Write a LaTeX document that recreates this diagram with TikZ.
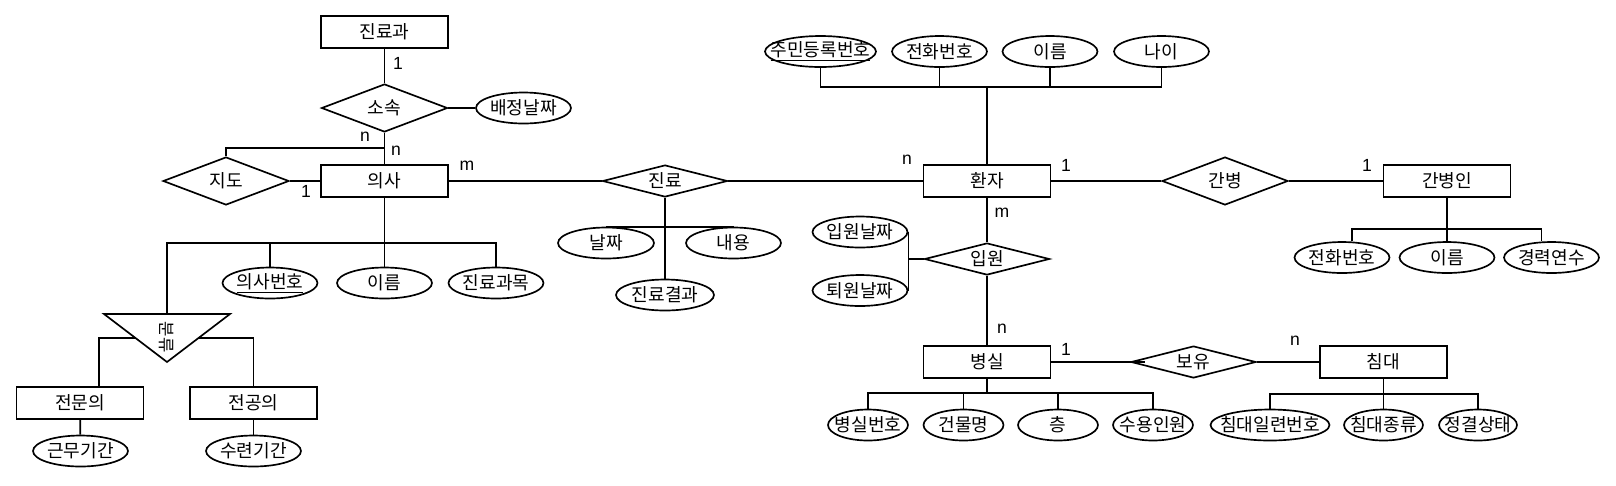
\documentclass[tikz,border=0pt]{standalone}
\usepackage{fontspec}
\usepackage{graphicx}
\setmainfont{Noto Sans CJK KR}
\newfontfamily\cardfont{Liberation Sans}
\usetikzlibrary{shapes.geometric}

\tikzset{
  ent/.style={draw, rectangle, minimum width=2.54cm, minimum height=0.64cm, inner sep=0pt},
  rel/.style={draw, diamond, aspect=2.6, minimum width=2.52cm, minimum height=0.96cm, inner sep=0pt},
  flatrel/.style={rel, aspect=3.9, minimum width=2.5cm, minimum height=0.64cm},
  attr/.style={draw, ellipse, minimum width=1.9cm, minimum height=0.62cm, inner sep=0pt,
    execute at begin node={\hbox to 0pt\bgroup\hss}, execute at end node={\hss\egroup}},
  card/.style={inner sep=0pt, font=\cardfont\fontsize{10}{11}\selectfont},
}

\begin{document}
\begin{tikzpicture}[x=0.02cm, y=-0.02cm, line width=0.95pt,
    every node/.style={font=\fontsize{10.3}{12}\selectfont}]
  \useasboundingbox (0,0) rectangle (1616,485);

  % entities
  \node[ent] (dept) at (384.5,32) {진료과};
  \node[ent] (doc) at (384.5,181) {의사};
  \node[ent] (pat) at (987,181) {환자};
  \node[ent] (carer) at (1447,181) {간병인};
  \node[ent] (room) at (987,362) {병실};
  \node[ent] (bed) at (1383.5,362) {침대};
  \node[ent] (spec) at (80,403) {전문의};
  \node[ent] (resi) at (253.5,403) {전공의};

  % relationships
  \node[rel] (belong) at (384.5,108) {소속};
  \node[rel] (guide) at (226,181) {지도};
  \node[flatrel] (treat) at (665,181) {진료};
  \node[rel] (care) at (1225,181) {간병};
  \node[flatrel] (admit) at (987,259) {입원};
  \node[flatrel] (hold) at (1193.5,362) {보유};

  % specialisation triangle
  \coordinate (isa-l) at (104,314);
  \coordinate (isa-r) at (230,314);
  \coordinate (isa-b) at (167,362);
  \coordinate (isa-t) at (167,314);
  \coordinate (isa-lm) at (135.5,338);
  \coordinate (isa-rm) at (198.5,338);
  \draw (isa-l) -- (isa-r) -- (isa-b) -- cycle;
  \node[inner sep=0pt] (isa) at (167,337) {\rotatebox{-90}{\fontsize{9.5}{10}\selectfont 분류}};

  % attributes
  \node[attr] (asgdate) at (523.5,108) {배정날짜};
  \node[attr] (docno) at (270,283) {\underline{의사번호}};
  \node[attr] (docname) at (384.5,283) {이름};
  \node[attr] (subject) at (496,283) {진료과목};
  \node[attr] (worktime) at (80.5,451) {근무기간};
  \node[attr] (traintime) at (253.5,451) {수련기간};
  \node[attr, minimum width=1.92cm] (tdate) at (606,243) {날짜};
  \node[attr] (tcontent) at (733.5,243) {내용};
  \node[attr, minimum width=1.96cm] (tresult) at (665,295) {진료결과};
  \node[attr, minimum width=2.22cm] (ssn) at (820.5,51.5) {\underline{주민등록번호}};
  \node[attr] (ptel) at (939.5,51.5) {전화번호};
  \node[attr] (pname) at (1050,51.5) {이름};
  \node[attr] (page) at (1161.5,51.5) {나이};
  \node[attr] (indate) at (860,232) {입원날짜};
  \node[attr] (outdate) at (860,290.5) {퇴원날짜};
  \node[attr] (ctel) at (1342,257.5) {전화번호};
  \node[attr] (cname) at (1447,257.5) {이름};
  \node[attr] (cyears) at (1551.5,257.5) {경력연수};
  \node[attr, minimum width=1.6cm] (rno) at (868,425) {병실번호};
  \node[attr, minimum width=1.6cm] (bldg) at (963.5,425) {건물명};
  \node[attr, minimum width=1.6cm] (floor) at (1058,425) {층};
  \node[attr, minimum width=1.6cm] (capacity) at (1153,425) {수용인원};
  \node[attr, minimum width=2.38cm] (bno) at (1270,425) {침대일련번호};
  \node[attr, minimum width=1.58cm] (btype) at (1383.5,425) {침대종류};
  \node[attr, minimum width=1.56cm] (clean) at (1478,425) {정결상태};

  % relationship lines
  \draw (dept) -- (belong);
  \draw (belong) -- (asgdate);
  \draw (belong) -- (doc);
  \coordinate (gbend) at (384.5,148);
  \draw (guide.north) |- (gbend);
  \draw (guide) -- (doc);
  \draw (doc) -- (treat);
  \draw (treat) -- (pat);
  \draw (pat) -- (care);
  \draw (care) -- (carer);
  \draw (pat) -- (admit);
  \draw (admit) -- (room);
  \draw (room.east) -- ([xshift=0.3cm]hold.west);
  \draw (hold) -- (bed);

  % attribute lines
  \coordinate (docbus) at (384.5,243);
  \draw (doc) -- (docname);
  \draw (isa-t) |- (docbus) -| (subject.north);
  \draw (docno.north) -- (docno.north |- docbus);
  \draw (isa-lm) -| ([xshift=0.38cm]spec.north);
  \draw (isa-rm) -| (resi.north);
  \draw (spec) -- (worktime);
  \draw (resi) -- (traintime);

  \draw (treat) -- (tresult);
  \draw (tdate.north) -- (tcontent.north);

  \draw (indate.east) -- (outdate.east);
  \draw (admit) -- (admit.west -| indate.east);

  \coordinate (patbus) at (987,87);
  \draw (pat) -- (patbus);
  \draw (ssn.south) |- (patbus) -| (page.south);
  \draw (ptel.south) -- (ptel.south |- patbus);
  \draw (pname.south) -- (pname.south |- patbus);

  \coordinate (carerbus) at (1447,229);
  \draw (carer) -- (cname);
  \draw ([xshift=0.2cm]ctel.north) |- (carerbus) -| ([xshift=-0.2cm]cyears.north);

  \coordinate (roombus) at (987,393);
  \draw (room) -- (roombus);
  \draw (rno.north) |- (roombus) -| (capacity.north);
  \draw (bldg.north) -- (bldg.north |- roombus);
  \draw (floor.north) -- (floor.north |- roombus);

  \coordinate (bedbus) at (1383.5,394);
  \draw (bed) -- (btype);
  \draw (bno.north) |- (bedbus) -| (clean.north);

  % cardinalities
  \node[card] (c-dept) at (398,63) {1};
  \node[card] (c-belong) at (365,137) {n};
  \node[card] (c-guide-n) at (396,151) {n};
  \node[card] (c-guide-1) at (306,191) {1};
  \node[card] (c-treat-m) at (467,166) {m};
  \node[card] (c-treat-n) at (907,160) {n};
  \node[card] (c-care-p) at (1066,165) {1};
  \node[card] (c-care-c) at (1367,165) {1};
  \node[card] (c-admit-m) at (1002,213) {m};
  \node[card] (c-admit-n) at (1002,329) {n};
  \node[card] (c-hold-r) at (1066,349) {1};
  \node[card] (c-hold-b) at (1295,341) {n};
\end{tikzpicture}
\end{document}
